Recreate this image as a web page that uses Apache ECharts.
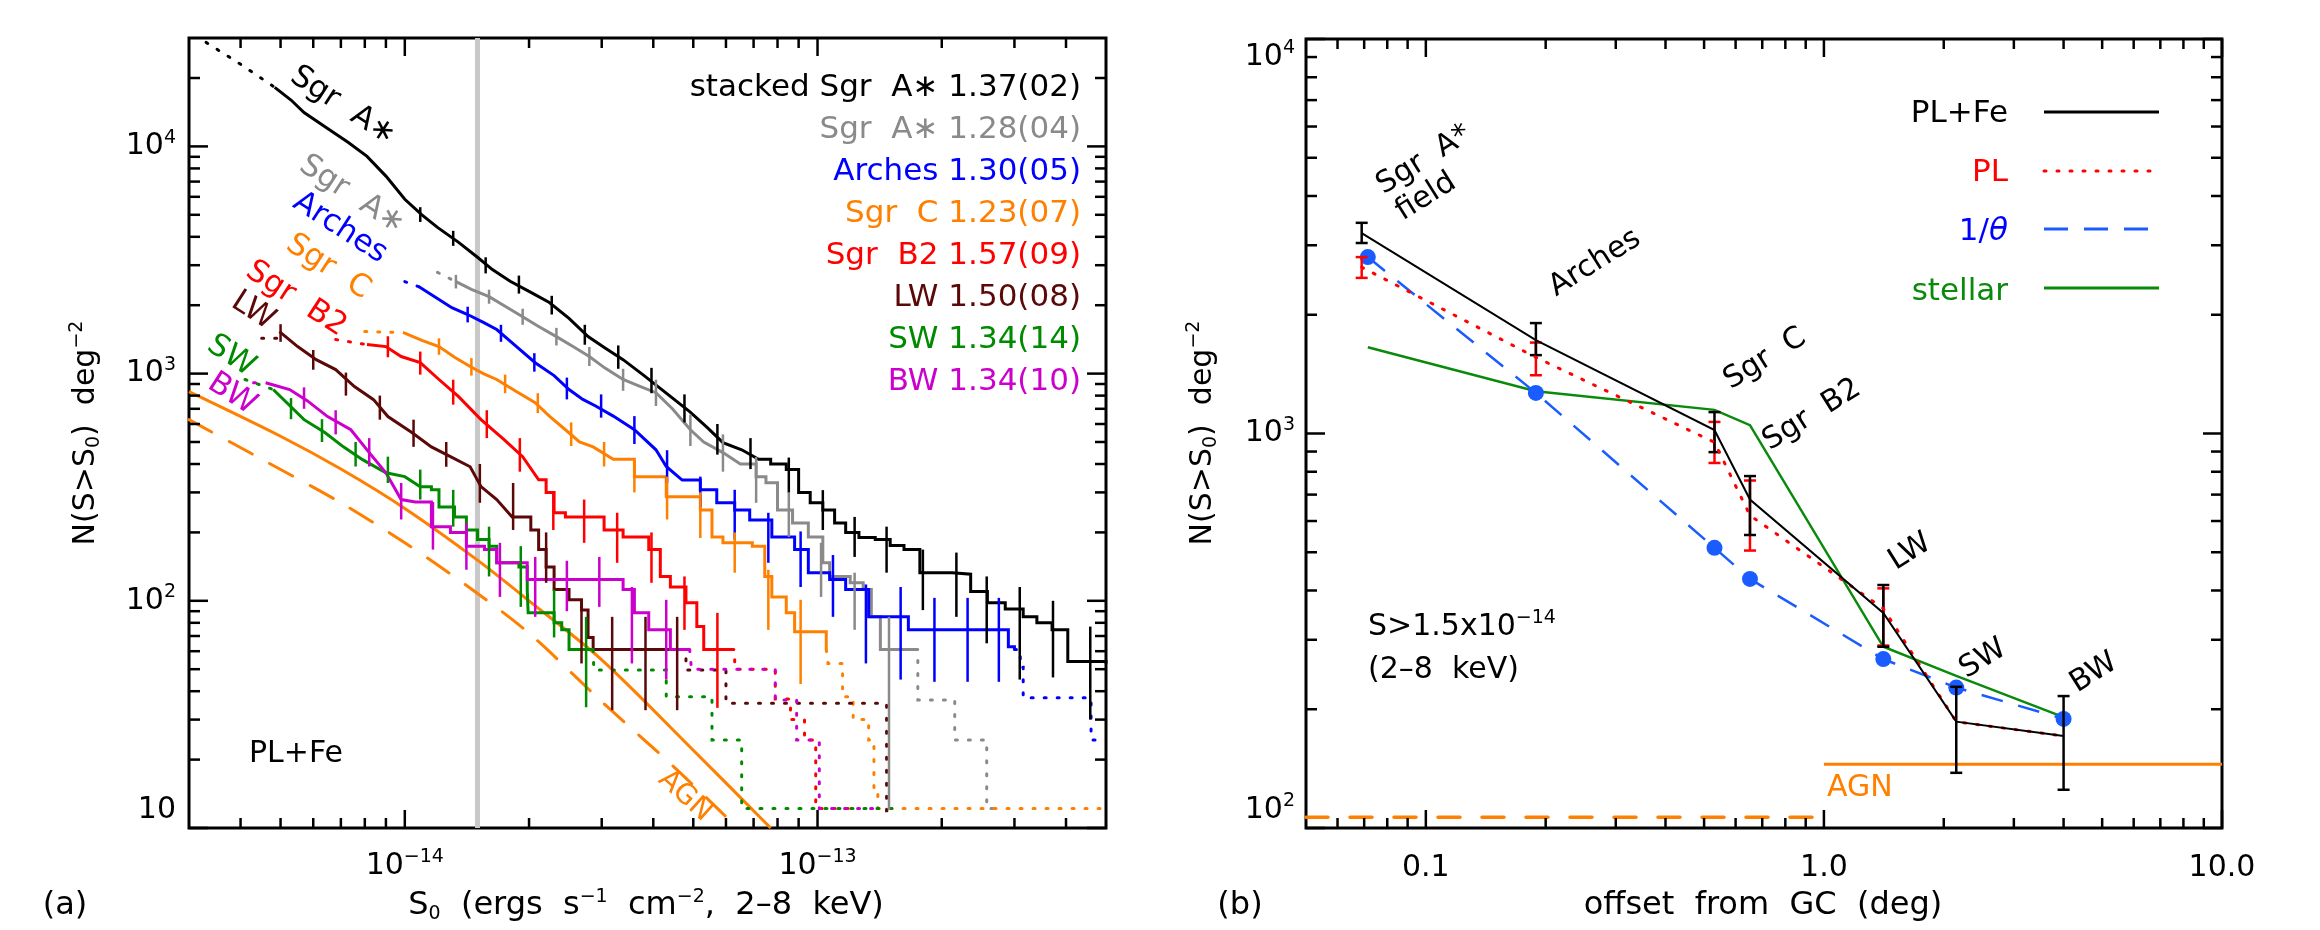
<!DOCTYPE html>
<html><head><meta charset="utf-8">
<script src="https://cdn.jsdelivr.net/npm/echarts@6/dist/echarts.min.js"></script>
<style>html,body{margin:0;padding:0;background:#fff}#c{width:2320px;height:930px}</style>
</head><body><div id="c"></div>
<script>
// ================= DATA =================
// Panel (a): S in units of 1e-14 erg s^-1 cm^-2, N(>S) in deg^-2
const S_UNIT = 1e-14;
const stackedLead = [[0.33,28700],[0.40,23000],[0.484,18200]];
const stackedCurve = [[0.484,18200],[0.53,16000],[0.57,14100],[0.65,12000],[0.73,10400],[0.81,9040],[0.9,7400],[1.0,5850],[1.1,5000],[1.2,4400],[1.35,3780],[1.5,3250],[1.63,2870],[1.8,2550],[2.0,2300],[2.24,2055],[2.5,1750],[2.78,1455],[3.05,1300],[3.38,1152],[3.8,980],[4.3,820],[4.9,680],[5.4,580],[5.9,497],[6.55,462],[7.2,420],[7.7,400],[8.4,378],[9.0,300],[9.6,270],[10.3,251],[11.0,220],[11.7,200],[12.6,190],[13.8,186],[15,175],[16.2,168],[17.7,133],[19.5,133],[21.2,131],[23.5,110],[25.8,98],[28.5,92],[31.5,85],[34,80],[37,74.5],[40.4,54],[50,53]];
const stackedErr = [[1.09,4650,5400],[1.31,3650,4250],[1.57,2760,3250],[1.89,2250,2700],[2.27,1820,2200],[2.73,1340,1640],[3.29,1050,1330],[3.96,820,1060],[4.76,610,810],[5.72,440,600],[6.88,380,520],[8.52,299,427],[10.3,205,307],[12.3,156,234],[14.7,133,212],[18.0,91,168],[21.7,85,163],[25.7,65,128],[30.9,45,115],[37.2,46,100],[45.8,30,77]];

const sgraLead = [[1.2,2790],[1.33,2540]];
const sgraCurve = [[1.33,2540],[1.45,2350],[1.6,2180],[1.75,1980],[1.93,1780],[2.1,1620],[2.33,1455],[2.55,1320],[2.8,1190],[3.05,1060],[3.38,942],[3.7,880],[4.06,824],[4.45,700],[4.92,566],[5.3,500],[5.9,449],[6.5,400],[7.1,352],[7.5,331],[8.0,251],[8.7,220],[9.5,191],[10.3,147],[10.7,128],[12,120],[12.9,112],[13.5,85],[14.2,61],[17.3,61]];
const sgraTail = [[17.3,61],[17.5,36.6],[21.5,24.4],[25.7,12.2],[28,12.2]];
const sgraErr = [[1.33,2370,2720],[1.6,2030,2340],[1.93,1640,1930],[2.33,1330,1590],[2.8,1080,1310],[3.38,840,1050],[4.06,720,940],[4.92,480,660],[5.9,370,540],[7.1,270,430],[8.52,191,300],[10.2,104,180],[12.3,74.5,133],[14.9,12,85]];

const archesLead = [[1.0,2540],[1.08,2415]];
const archesCurve = [[1.08,2415],[1.21,2120],[1.3,1950],[1.42,1820],[1.55,1680],[1.67,1563],[1.85,1330],[2.07,1117],[2.3,980],[2.5,851],[2.7,770],[2.9,720],[3.2,650],[3.6,566],[4.06,462],[4.3,390],[4.7,340],[5.2,308],[5.7,270],[6.3,251],[6.85,227],[7.75,191],[8.8,168],[9.5,133],[10.7,124],[11.7,112],[13.3,85],[16.6,74.5],[29,62.7],[30,61]];
const archesTail = [[30,61],[31,51],[31.5,37.4],[46,24.4],[50,24.4]];
const archesErr = [[1.42,1680,1970],[1.71,1380,1640],[2.06,1020,1230],[2.47,770,960],[2.99,640,810],[3.6,490,650],[4.32,330,460],[5.2,259,352],[6.3,186,308],[7.6,147,244],[9.1,115,202],[10.9,85,159],[13.1,53,118],[15.9,45,115],[19.2,44,103],[23.1,44,103],[27.5,44,103]];

const sgrcLead = [[0.8,1531],[0.99,1517]];
const sgrcCurve = [[0.99,1517],[1.1,1400],[1.21,1315],[1.32,1180],[1.44,1074],[1.55,1000],[1.67,942],[1.85,840],[2.07,745],[2.24,650],[2.45,566],[2.65,500],[2.86,476],[3.2,420],[3.6,352],[4.3,287],[5.2,251],[5.55,191],[5.9,180],[6.95,174],[7.45,128],[7.75,104],[8.4,88.5],[8.8,73],[10.5,61]];
const sgrcTail = [[10.5,61],[10.6,53],[11.5,37.8],[12.2,30],[13.3,24.4],[13.7,14.3],[14.0,12.2],[50,12.2]];
const sgrcErr = [[1.21,1210,1430],[1.45,980,1170],[1.75,820,990],[2.1,670,820],[2.53,480,610],[3.04,390,500],[3.6,300,410],[4.32,228,352],[5.2,189,300],[6.3,133,200],[7.6,74.5,137],[9.1,43,101]];

const sgrb2Lead = [[0.68,1412],[0.81,1342]];
const sgrb2Curve = [[0.81,1342],[0.9,1315],[0.98,1189],[1.09,1117],[1.21,942],[1.35,792],[1.53,627],[1.74,512],[1.93,431],[2.11,341],[2.2,300],[2.3,244],[2.45,234],[3.04,205],[3.38,191],[3.9,168],[4.16,128],[4.4,115],[4.8,98],[5.1,77],[5.3,61],[6.2,61]];
const sgrb2Tail = [[6.2,61],[6.3,50],[7.9,37],[8.6,30],[9.3,24.4],[9.9,12.2],[12,12.2]];
const sgrb2Err = [[0.91,1180,1460],[1.09,990,1250],[1.31,730,940],[1.58,520,690],[1.9,370,520],[2.29,205,300],[2.72,180,279],[3.27,147,244],[3.96,120,200],[4.76,74.5,128],[5.72,33.8,88.5]];

const lwLead = [[0.45,1430],[0.49,1430]];
const lwCurve = [[0.497,1530],[0.55,1315],[0.61,1152],[0.68,1042],[0.755,877],[0.84,768],[0.91,647],[1.04,550],[1.16,476],[1.29,431],[1.44,389],[1.53,318],[1.67,279],[1.82,234],[2.02,205],[2.11,168],[2.2,141],[2.3,112],[2.5,101],[2.68,91],[2.78,69],[2.86,61],[4.7,61]];
const lwTail = [[4.7,61],[4.8,49.6],[6.0,35.4],[14.7,11.9],[15.5,11.9]];
const lwErr = [[0.5,1380,1650],[0.6,1040,1270],[0.72,800,1010],[0.87,627,800],[1.05,476,627],[1.26,389,500],[1.52,270,400],[1.83,205,330],[2.2,120,200],[2.68,53,94],[3.18,33,85],[3.83,33,85],[4.57,33,85]];

const swLead = [[0.41,942],[0.48,851]];
const swCurve = [[0.48,851],[0.57,627],[0.64,550],[0.71,476],[0.79,418],[0.9,366],[1.0,352],[1.09,318],[1.16,308],[1.21,259],[1.32,234],[1.41,205],[1.5,186],[1.6,174],[1.67,147],[1.89,141],[1.98,112],[1.99,88.5],[2.3,80],[2.4,74.5],[2.5,61],[2.86,61]];
const swTail = [[2.86,61],[2.87,49.6],[4.3,37.8],[5.55,24.4],[6.55,12.2],[15.7,12.2]];
const swErr = [[0.53,630,780],[0.63,500,630],[0.76,390,500],[0.91,330,431],[1.09,279,378],[1.31,212,308],[1.6,128,212],[1.91,94,174],[2.3,69,112],[2.75,34,85]];

const bwLead = [[0.43,912],[0.46,912]];
const bwCurve = [[0.46,912],[0.526,851],[0.58,760],[0.65,647],[0.74,566],[0.82,449],[0.9,366],[0.92,341],[0.98,279],[1.06,272],[1.16,212],[1.29,200],[1.41,174],[1.56,168],[1.67,147],[1.98,124],[3.2,124],[3.38,112],[3.6,88.5],[3.9,74.5],[4.4,61],[4.9,61]];
const bwTail = [[4.9,61],[4.95,50],[7.9,36.6],[8.9,24.4],[10.1,12.2],[14,12.2]];
const bwErr = [[0.57,700,870],[0.68,540,690],[0.82,390,520],[0.98,228,330],[1.17,168,272],[1.41,137,220],[1.7,104,180],[2.07,85,156],[2.47,90,150],[2.96,94,156],[3.55,53,115],[4.3,45,101]];

const agnSolidA = [[0.3,833],[0.5,530],[0.7,380],[1.0,255],[1.5,151],[2.0,100],[3.0,55],[5.0,22],[7.7,10]];
const agnDashA  = [[0.3,627],[0.45,420],[0.7,270],[1.0,180],[1.4,118],[2.0,72],[3.0,36],[4.5,18.5],[6.4,10]];
const thresholdS = 1.5;

const legendNamesA  = ['stacked Sgr  A∗', 'Sgr  A∗', 'Arches', 'Sgr  C', 'Sgr  B2', 'LW', 'SW', 'BW'];
const legendSlopesA = ['1.37(02)', '1.28(04)', '1.30(05)', '1.23(07)', '1.57(09)', '1.50(08)', '1.34(14)', '1.34(10)'];

// Panel (b): offset from GC (deg) and N(S>1.5e-14) deg^-2
const fieldOffset = [0.069, 0.189, 0.531, 0.652, 1.41, 2.15, 4.0];
const modelOffset = [0.0715, 0.189, 0.531, 0.652, 1.41, 2.15, 4.0];
const plfeN  = [3220, 1725, 1020, 680, 351, 186, 171];
const plfeLo = [3040, 1580, 897, 553, 288, 138, 125];
const plfeHi = [3420, 1905, 1133, 780, 413, 228, 216];
const plN  = [2640, 1560, 950, 620, 360, 186, 171];
const plLo = [2480, 1405, 842, 505, 290];
const plHi = [2800, 1700, 1070, 760, 405];
const invThetaN = [2800, 1267, 513, 428, 268, 227, 189];
const stellarN  = [1655, 1280, 1148, 1050, 288, 243, 191];
const agnSolidB = [[1.0,145],[10,145]];
const agnDashB  = [[0.05,106.5],[0.95,106.5]];

// ================= STYLE / BUILD =================
const FONT = "'DejaVu Sans', sans-serif";
const COL = {stacked:'#000000', sgra:'#8a8a8a', arches:'#0000ff', sgrc:'#ff8000', sgrb2:'#ff0000', lw:'#5a0808', sw:'#008a00', bw:'#cc00cc', agn:'#ff7f00', blue2:'#1a5cff', green2:'#0a8a0a'};
const toS = arr => arr.map(p => [p[0]*S_UNIT, p[1]]);
const toSErr = arr => arr.map(p => [p[0]*S_UNIT, p[1], p[2]]);
// straight segments below `from`, staircase (flat then drop) from `from` on
function stepify(arr, from) {
  const out = [];
  arr.forEach((p, i) => { if (i > 0 && p[0] >= from) out.push([p[0], arr[i-1][1]]); out.push(p); });
  return out;
}

function lineS(gi, data, color, width, type, step, z) {
  return {type:'line', xAxisIndex:gi, yAxisIndex:gi, data, step: step || false, symbol:'none',
    lineStyle:{color, width, type: type || 'solid', cap: type && type !== 'solid' ? 'round' : 'butt', join:'miter'},
    z: z || 3, silent:true, animation:false};
}
function errS(gi, data, color, width, cap) {
  return {type:'custom', xAxisIndex:gi, yAxisIndex:gi, data, encode:{x:0, y:[1,2]}, z:4, silent:true, animation:false,
    renderItem:(params, api) => {
      const x = api.value(0);
      const p1 = api.coord([x, api.value(1)]), p2 = api.coord([x, api.value(2)]);
      const st = {stroke:color, lineWidth:width};
      const ch = [{type:'line', shape:{x1:p1[0],y1:p1[1],x2:p2[0],y2:p2[1]}, style:st}];
      if (cap) {
        ch.push({type:'line', shape:{x1:p1[0]-cap,y1:p1[1],x2:p1[0]+cap,y2:p1[1]}, style:st});
        ch.push({type:'line', shape:{x1:p2[0]-cap,y1:p2[1],x2:p2[0]+cap,y2:p2[1]}, style:st});
      }
      return {type:'group', children:ch};
    }};
}
function minors(lo, hi) {
  const out = [];
  for (let e = Math.floor(Math.log10(lo)); e <= Math.ceil(Math.log10(hi)); e++)
    for (let k = 2; k <= 9; k++) { const v = k*Math.pow(10,e); if (v > lo*1.0001 && v < hi*0.9999) out.push(v); }
  return out;
}
function decades(lo, hi) {
  const out = [];
  for (let e = Math.ceil(Math.log10(lo)-1e-9); e <= Math.floor(Math.log10(hi)+1e-9); e++) out.push(Math.pow(10,e));
  return out;
}
function tickS(gi, xr, yr) {
  const data = [];
  decades(xr[0],xr[1]).forEach(v => data.push([v, yr[0], 0, 18]));
  minors(xr[0],xr[1]).forEach(v => data.push([v, yr[0], 0, 10]));
  decades(yr[0],yr[1]).forEach(v => data.push([xr[0], v, 1, 19]));
  minors(yr[0],yr[1]).forEach(v => data.push([xr[0], v, 1, 11]));
  return {type:'custom', xAxisIndex:gi, yAxisIndex:gi, data, encode:{x:0,y:1}, z:6, silent:true, animation:false,
    renderItem:(params, api) => {
      const cs = params.coordSys;
      const p = api.coord([api.value(0), api.value(1)]);
      const L = api.value(3), st = {stroke:'#000', lineWidth:2.5};
      if (api.value(2) === 0) {
        return {type:'group', children:[
          {type:'line', shape:{x1:p[0],y1:cs.y+cs.height,x2:p[0],y2:cs.y+cs.height-L}, style:st},
          {type:'line', shape:{x1:p[0],y1:cs.y,x2:p[0],y2:cs.y+L}, style:st}]};
      }
      return {type:'group', children:[
        {type:'line', shape:{x1:cs.x,y1:p[1],x2:cs.x+L,y2:p[1]}, style:st},
        {type:'line', shape:{x1:cs.x+cs.width,y1:p[1],x2:cs.x+cs.width-L,y2:p[1]}, style:st}]};
    }};
}

const XA = [3e-15, 5e-13], YA = [10, 3e4], XB = [0.05, 10], YB = [100, 1e4];
const DOT = [2, 11];
const series = [];
// ---- panel (a)
series.push(lineS(0, [[thresholdS*S_UNIT, YA[0]], [thresholdS*S_UNIT, YA[1]]], '#c8c8c8', 5, 'solid', false, 1));
series.push(Object.assign(lineS(0, toS(agnSolidA), COL.agn, 3, 'solid', false, 2), {smooth:0.3}));
series.push(Object.assign(lineS(0, toS(agnDashA), COL.agn, 3, [26,20], false, 2), {smooth:0.3}));
const curvesA = [
  {lead:stackedLead, curve:stackedCurve, tail:null, err:stackedErr, color:COL.stacked, stepFrom:7.7},
  {lead:sgraLead, curve:sgraCurve, tail:sgraTail, err:sgraErr, color:COL.sgra, stepFrom:7.1},
  {lead:archesLead, curve:archesCurve, tail:archesTail, err:archesErr, color:COL.arches, stepFrom:5.2},
  {lead:sgrcLead, curve:sgrcCurve, tail:sgrcTail, err:sgrcErr, color:COL.sgrc, stepFrom:3.6},
  {lead:sgrb2Lead, curve:sgrb2Curve, tail:sgrb2Tail, err:sgrb2Err, color:COL.sgrb2, stepFrom:2.2},
  {lead:lwLead, curve:lwCurve, tail:lwTail, err:lwErr, color:COL.lw, stepFrom:1.9},
  {lead:swLead, curve:swCurve, tail:swTail, err:swErr, color:COL.sw, stepFrom:1.16},
  {lead:bwLead, curve:bwCurve, tail:bwTail, err:bwErr, color:COL.bw, stepFrom:1.16}
];
curvesA.forEach(c => {
  if (c.lead) series.push(lineS(0, toS(c.lead), c.color, 3, DOT, false, 3));
  series.push(lineS(0, toS(stepify(c.curve, c.stepFrom)), c.color, 3, 'solid', false, 3));
  if (c.tail) series.push(lineS(0, toS(c.tail), c.color, 3, DOT, 'end', 3));
  series.push(errS(0, toSErr(c.err), c.color, 2.5, 0));
});
series.push(tickS(0, XA, YA));
// ---- panel (b)
series.push(lineS(1, agnSolidB, COL.agn, 3, 'solid', false, 2));
series.push(lineS(1, agnDashB, COL.agn, 3.5, [22,22], false, 2));
series.push(lineS(1, modelOffset.map((x,i)=>[x, stellarN[i]]), COL.green2, 2.5, 'solid', false, 3));
series.push({type:'line', xAxisIndex:1, yAxisIndex:1, data: modelOffset.map((x,i)=>[x, invThetaN[i]]), symbol:'circle', symbolSize:16, showSymbol:true,
  itemStyle:{color:COL.blue2}, lineStyle:{color:COL.blue2, width:2.5, type:[22,16]}, z:3, silent:true, animation:false});
series.push(lineS(1, fieldOffset.map((x,i)=>[x, plN[i]]), COL.sgrb2, 3, DOT, false, 4));
series.push(errS(1, plLo.map((v,i)=>[fieldOffset[i], v, plHi[i]]), COL.sgrb2, 2.5, 6));
series.push(lineS(1, fieldOffset.map((x,i)=>[x, plfeN[i]]), '#000', 2, 'solid', false, 5));
series.push(errS(1, plfeLo.map((v,i)=>[fieldOffset[i], v, plfeHi[i]]), '#000', 2.5, 6));
series.push(tickS(1, XB, YB));

// ---- axes
const isDec = v => { const l = Math.log10(v); return Math.abs(l - Math.round(l)) < 1e-6; };
const lg = v => Math.round(Math.log10(v));
const tickRich = {b:{fontSize:30, fontFamily:FONT, color:'#000', lineHeight:36}, s:{fontSize:19, fontFamily:FONT, color:'#000', lineHeight:20, verticalAlign:'top'}};
const axBase = (gi, min, max, fmt, extra) => Object.assign({type:'log', logBase:10, gridIndex:gi, min, max,
  axisLine:{show:false}, axisTick:{show:false}, splitLine:{show:false}, minorTick:{show:false},
  axisLabel:Object.assign({formatter:fmt, rich:tickRich, color:'#000'}, extra || {})});

const option = {
  animation:false,
  backgroundColor:'#ffffff',
  grid:[
    {left:189, top:38, width:917, height:790, show:true, borderColor:'#000', borderWidth:3},
    {left:1306, top:39, width:916, height:789, show:true, borderColor:'#000', borderWidth:3}
  ],
  xAxis:[
    axBase(0, XA[0], XA[1], v => isDec(v) ? `{b|10}{s|−${-lg(v)}}` : '', {margin:20}),
    axBase(1, XB[0], XB[1], v => { if (!isDec(v)) return ''; const e = lg(v); return '{b|' + (e===-1 ? '0.1' : e===0 ? '1.0' : '10.0') + '}'; }, {margin:22})
  ],
  yAxis:[
    axBase(0, YA[0], YA[1], v => !isDec(v) ? '' : (lg(v)===1 ? '{b|10}' : `{b|10}{s|${lg(v)}}`), {margin:13, verticalAlignMinLabel:'bottom'}),
    axBase(1, YB[0], YB[1], v => isDec(v) ? `{b|10}{s|${lg(v)}}` : '', {margin:11, verticalAlignMinLabel:'bottom', verticalAlignMaxLabel:'top'})
  ],
  series
};

// ---- texts
function rich(color){ return {
  sup:{fontSize:19, fontFamily:FONT, fill:color, lineHeight:20, verticalAlign:'top'},
  sub:{fontSize:19, fontFamily:FONT, fill:color, lineHeight:20, verticalAlign:'bottom'},
  it:{fontSize:31, fontFamily:FONT, fill:color, fontStyle:'italic', lineHeight:36}}; }
function T(x, y, text, o) {
  o = o || {};
  const color = o.color || '#000';
  return {type:'text', x, y, rotation:(o.rot||0)*Math.PI/180, silent:true, z:100,
    style:{text, fill:color, fontSize:o.size||30, fontFamily:FONT, align:o.align||'center', verticalAlign:'middle', lineHeight:36, rich:rich(color)}};
}
function L(x1,y1,x2,y2,color,dash,w){ return {type:'line', silent:true, z:100, shape:{x1,y1,x2,y2}, style:{stroke:color, lineWidth:w||3, lineDash:dash||null, lineCap: dash && dash[0]<5 ? 'round':'butt'}}; }

const gfx = [];
// panel (a) legend
const legColA = [COL.stacked, COL.sgra, COL.arches, COL.sgrc, COL.sgrb2, COL.lw, COL.sw, COL.bw];
legendNamesA.forEach((n,i) => gfx.push(T(1081, 88 + 42*i, n + ' ' + legendSlopesA[i], {color:legColA[i], align:'right', size:31})));
// panel (a) curve labels
[['Sgr  A∗',343,106,COL.stacked],['Sgr  A∗',352,195,COL.sgra],['Arches',340,228,COL.arches],['Sgr  C',328,267,COL.sgrc],
 ['Sgr  B2',296,299,COL.sgrb2],['LW',253,311,COL.lw],['SW',231,356,COL.sw],['BW',232,394,COL.bw]]
 .forEach(a => gfx.push(T(a[1], a[2], a[0], {color:a[3], rot:-33, size:31})));
gfx.push(T(685, 796, 'AGN', {color:COL.agn, rot:-42, size:28}));
gfx.push(T(249, 754, 'PL+Fe', {align:'left'}));
gfx.push(T(86, 433, 'N(S>S{sub|0})  deg{sup|−2}', {rot:90}));
gfx.push(T(646, 906, 'S{sub|0}  (ergs  s{sup|−1}  cm{sup|−2},  2–8  keV)', {size:32}));
gfx.push(T(65, 906, '(a)', {size:32}));
// panel (b) labels
gfx.push(T(1424, 160, 'Sgr  A*', {rot:32}));
gfx.push(T(1426, 197, 'field', {rot:32}));
[['Arches',1595,263],['Sgr  C',1765,359],['Sgr  B2',1812,415],['LW',1910,552],['SW',1983,659],['BW',2094,673]]
 .forEach(a => gfx.push(T(a[1], a[2], a[0], {rot:32})));
gfx.push(T(1827, 788, 'AGN', {color:COL.agn, align:'left'}));
gfx.push(T(1368, 627, 'S>1.5x10{sup|−14}', {align:'left'}));
gfx.push(T(1368, 670, '(2–8  keV)', {align:'left'}));
gfx.push(T(1203, 433, 'N(S>S{sub|0})  deg{sup|−2}', {rot:90}));
gfx.push(T(1763, 906, 'offset  from  GC  (deg)', {size:32}));
gfx.push(T(1240, 906, '(b)', {size:32}));
// panel (b) legend
gfx.push(T(2008, 114, 'PL+Fe', {align:'right', size:31}));
gfx.push(L(2044, 112, 2159, 112, '#000'));
gfx.push(T(2008, 173, 'PL', {align:'right', color:COL.sgrb2, size:31}));
gfx.push(L(2044, 171, 2159, 171, COL.sgrb2, [2, 11]));
gfx.push(T(2008, 232, '1/{it|θ}', {align:'right', color:'#0000ff', size:31}));
gfx.push(L(2044, 229, 2150, 229, COL.blue2, [24, 16]));
gfx.push(T(2008, 292, 'stellar', {align:'right', color:COL.green2, size:31}));
gfx.push(L(2044, 288, 2159, 288, COL.green2));
option.graphic = {elements: gfx};

const chart = echarts.init(document.getElementById('c'), null, {width:2320, height:930});
chart.setOption(option);
</script>
</body></html>
